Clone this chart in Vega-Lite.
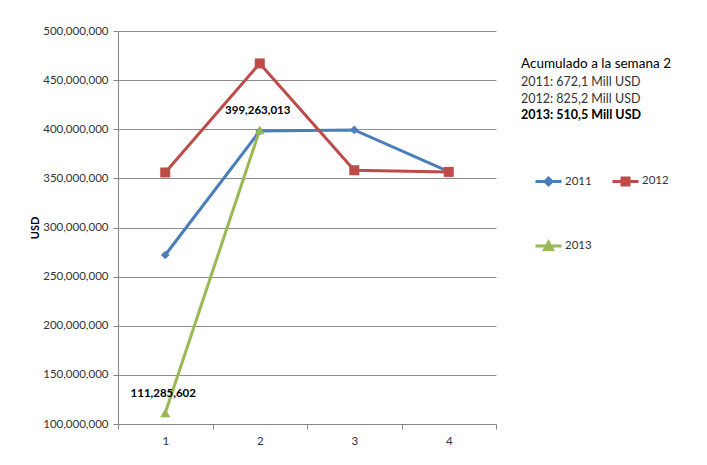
{
  "$schema": "https://vega.github.io/schema/vega-lite/v6.json",
  "autosize": "none",
  "width": 378,
  "height": 393,
  "padding": {"left": 118, "top": 31, "right": 211, "bottom": 41},
  "background": "white",
  "config": {"font": "Lato", "view": {"stroke": null}},
  "title": {
    "text": "Acumulado a la semana 2",
    "subtitle": ["2011: 672,1  Mill USD", "2012: 825,2  Mill USD"],
    "anchor": "start",
    "orient": "top",
    "frame": "group",
    "dx": 403,
    "dy": 84,
    "fontSize": 13.5,
    "fontWeight": "normal",
    "color": "#000000",
    "subtitleFontSize": 12.5,
    "subtitleColor": "#333333",
    "subtitleLineHeight": 16.5,
    "subtitlePadding": 6
  },
  "data": {
    "values": [
      {"week": "1", "year": "2011", "usd": 272000000},
      {"week": "2", "year": "2011", "usd": 398200000},
      {"week": "3", "year": "2011", "usd": 399300000},
      {"week": "4", "year": "2011", "usd": 356800000},
      {"week": "1", "year": "2012", "usd": 356000000},
      {"week": "2", "year": "2012", "usd": 467000000},
      {"week": "3", "year": "2012", "usd": 358300000},
      {"week": "4", "year": "2012", "usd": 356600000},
      {"week": "1", "year": "2013", "usd": 111285602, "label": "111,285,602"},
      {"week": "2", "year": "2013", "usd": 399263013, "label": "399,263,013"}
    ]
  },
  "encoding": {
    "x": {
      "field": "week",
      "type": "ordinal",
      "scale": {"type": "band", "paddingInner": 0, "paddingOuter": 0},
      "axis": {
        "title": null,
        "labelAngle": 0,
        "tickBand": "extent",
        "tickSize": 5,
        "tickColor": "#868686",
        "domainColor": "#868686",
        "labelPadding": 6,
        "labelFontSize": 11.5,
        "labelColor": "#333333",
        "grid": false
      }
    },
    "y": {
      "field": "usd",
      "type": "quantitative",
      "scale": {"domain": [100000000, 500000000], "nice": false, "zero": false},
      "axis": {
        "title": "USD",
        "titleFontWeight": "bold",
        "titleFontSize": 11,
        "titleColor": "#000000",
        "titlePadding": 2,
        "format": ",.0f",
        "values": [100000000, 150000000, 200000000, 250000000, 300000000, 350000000, 400000000, 450000000, 500000000],
        "tickSize": 5,
        "tickColor": "#868686",
        "domainColor": "#868686",
        "gridColor": "#8C8C8C",
        "labelPadding": 5,
        "labelFontSize": 11.5,
        "labelColor": "#333333"
      }
    }
  },
  "layer": [
    {
      "mark": {"type": "line", "strokeWidth": 3},
      "encoding": {
        "color": {
          "field": "year",
          "type": "nominal",
          "scale": {"domain": ["2011", "2012", "2013"], "range": ["#4A7EBB", "#BE4B48", "#98B954"]},
          "legend": {
            "orient": "none",
            "direction": "horizontal",
            "legendX": 403,
            "legendY": 78,
            "columns": 2,
            "title": "2013: 510,5  Mill USD",
            "titleFontSize": 12.5,
            "titleFontWeight": "bold",
            "titleColor": "#000000",
            "titlePadding": 45,
            "symbolOffset": 13,
            "symbolSize": 676,
            "symbolStrokeWidth": 3,
            "labelFontSize": 11.5,
            "labelColor": "#333333",
            "labelOffset": 2,
            "columnPadding": 6,
            "rowPadding": 40,
            "encode": {
              "symbols": {
                "update": {
                  "shape": {"signal": "datum.value == '2011' ? 'M-1,0H1M0,-0.26L0.26,0L0,0.26L-0.26,0Z' : datum.value == '2012' ? 'M-1,0H1M-0.27,-0.27H0.27V0.27H-0.27Z' : 'M-1,0H1M0,-0.3L0.3,0.26H-0.3Z'"},
                  "fill": {"scale": "color", "field": "value"},
                  "stroke": {"scale": "color", "field": "value"},
                  "strokeWidth": {"value": 3}
                }
              }
            }
          }
        }
      }
    },
    {
      "transform": [{"filter": "datum.year == '2011'"}],
      "mark": {"type": "point", "filled": true, "opacity": 1, "shape": "diamond", "size": 75, "color": "#4A7EBB"}
    },
    {
      "transform": [{"filter": "datum.year == '2012'"}],
      "mark": {"type": "point", "filled": true, "opacity": 1, "shape": "square", "size": 100, "color": "#BE4B48"}
    },
    {
      "transform": [{"filter": "datum.year == '2013'"}],
      "mark": {"type": "point", "filled": true, "opacity": 1, "shape": "triangle-up", "size": 100, "color": "#98B954"}
    },
    {
      "transform": [{"filter": "datum.label != null"}],
      "mark": {"type": "text", "fontWeight": "bold", "fontSize": 11.5, "dy": -19, "dx": -2},
      "encoding": {
        "text": {"field": "label"},
        "color": {"value": "#000000"}
      }
    }
  ]
}
